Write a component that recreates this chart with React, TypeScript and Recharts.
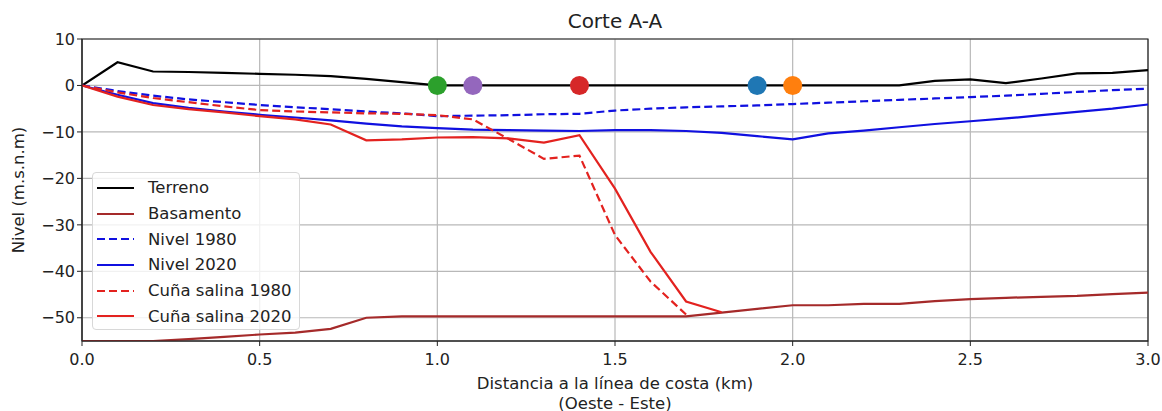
import {
    ComposedChart,
    Line,
    Scatter,
    Cell,
    XAxis,
    YAxis,
    CartesianGrid,
    ReferenceArea,
} from "recharts";

// distancia a la línea de costa (km)
const DIST = [
    0, 0.1, 0.2, 0.3, 0.4, 0.5, 0.6, 0.7, 0.8, 0.9,
    1.0, 1.1, 1.2, 1.3, 1.4, 1.5, 1.6, 1.7, 1.8, 1.9,
    2.0, 2.1, 2.2, 2.3, 2.4, 2.5, 2.6, 2.7, 2.8, 2.9, 3.0,
];

const TERRENO = [
    0, 5, 3, 2.9, 2.7, 2.5, 2.3, 2.0, 1.4, 0.7,
    0, 0, 0, 0, 0, 0, 0, 0, 0, 0,
    0, 0, 0, 0, 1.0, 1.3, 0.5, 1.5, 2.6, 2.7, 3.3,
];

const BASAMENTO = [
    -55, -55, -55, -54.6, -54.1, -53.6, -53.2, -52.4, -50, -49.7,
    -49.7, -49.7, -49.7, -49.7, -49.7, -49.7, -49.7, -49.7, -48.9, -48.1,
    -47.3, -47.3, -47.0, -47.0, -46.4, -46.0, -45.7, -45.5, -45.3, -44.9, -44.6,
];

const NIVEL_1980 = [
    0, -1.2, -2.2, -3.0, -3.6, -4.2, -4.7, -5.1, -5.6, -6.0,
    -6.6, -6.5, -6.4, -6.2, -6.1, -5.4, -5.0, -4.7, -4.5, -4.3,
    -4.0, -3.7, -3.4, -3.1, -2.8, -2.5, -2.2, -1.8, -1.4, -1.0, -0.7,
];

const NIVEL_2020 = [
    0, -2.0, -3.8, -4.8, -5.6, -6.3, -6.9, -7.5, -8.2, -8.8,
    -9.2, -9.5, -9.6, -9.7, -9.8, -9.6, -9.6, -9.8, -10.2, -10.9,
    -11.6, -10.3, -9.7, -9.0, -8.3, -7.7, -7.1, -6.4, -5.7, -5.0, -4.1,
];

// la cuña salina sólo llega hasta 1.7 / 1.8 km
const CUNA_1980 = [
    0, -1.5, -2.7, -3.6, -4.5, -5.3, -5.6, -5.8, -6.0, -6.1,
    -6.4, -7.3, -11.5, -15.8, -15.1, -32.2, -42.2, -49.3,
];

const CUNA_2020 = [
    0, -2.4, -4.2, -5.1, -5.8, -6.6, -7.3, -8.4, -11.8, -11.6,
    -11.2, -11.1, -11.4, -12.3, -10.7, -22.2, -35.8, -46.5, -48.8,
];

// pozos sobre el terreno
const POZOS_X = [1.0, 1.1, 1.4, 1.9, 2.0];
const POZOS_Y = [0, 0, 0, 0, 0];
const POZOS_COLOR = ["#2ca02c", "#9467bd", "#d62728", "#1f77b4", "#ff7f0e"];

const X_TICKS = [0, 0.5, 1.0, 1.5, 2.0, 2.5, 3.0];
const Y_TICKS = [-50, -40, -30, -20, -10, 0, 10];

const FONT = "'DejaVu Sans', sans-serif";

const SERIES = [
    { key: "terreno", name: "Terreno", color: "#000000", dash: undefined, values: TERRENO },
    { key: "basamento", name: "Basamento", color: "#a52a2a", dash: undefined, values: BASAMENTO },
    { key: "nivel1980", name: "Nivel 1980", color: "#1010e0", dash: "8 4", values: NIVEL_1980 },
    { key: "nivel2020", name: "Nivel 2020", color: "#1010e0", dash: undefined, values: NIVEL_2020 },
    { key: "cuna1980", name: "Cuña salina 1980", color: "#e3221f", dash: "8 4", values: CUNA_1980 },
    { key: "cuna2020", name: "Cuña salina 2020", color: "#e3221f", dash: undefined, values: CUNA_2020 },
];

const chartData = DIST.map((x, i) => {
    const row: Record<string, number | null> = { x };
    SERIES.forEach(s => {
        row[s.key] = i < s.values.length ? s.values[i] : null;
    });
    return row;
});

const pozos = POZOS_X.map((x, i) => ({ x, y: POZOS_Y[i] }));

const fmtY = (v: number) => (v < 0 ? "\u2212" + Math.abs(v) : String(v));

function Leyenda() {
    return (
        <div
            style={{
                position: "absolute",
                left: 92,
                top: 172,
                width: 208,
                height: 158,
                boxSizing: "border-box",
                border: "1px solid #d8d8d8",
                borderRadius: 4,
                background: "rgba(255,255,255,0.8)",
                paddingTop: 2,
            }}
        >
            {SERIES.map(s => (
                <div
                    key={s.key}
                    style={{ height: 25.7, display: "flex", alignItems: "center" }}
                >
                    <svg width={37} height={6} style={{ marginLeft: 4, marginRight: 14 }}>
                        <line
                            x1={0}
                            y1={3}
                            x2={37}
                            y2={3}
                            stroke={s.color}
                            strokeWidth={2.2}
                            strokeDasharray={s.dash}
                        />
                    </svg>
                    <span style={{ fontSize: 16.5, color: "#222", whiteSpace: "nowrap" }}>{s.name}</span>
                </div>
            ))}
        </div>
    );
}

export default function App() {
    return (
        <div
            style={{
                position: "absolute",
                left: 0,
                top: 0,
                width: 1162,
                height: 411,
                fontFamily: FONT,
                background: "#fff",
            }}
        >
            <ComposedChart
                width={1162}
                height={411}
                data={chartData}
                margin={{ top: 39, right: 14, bottom: 0, left: 0 }}
            >
                <CartesianGrid stroke="#b8b8b8" strokeWidth={1.2} />
                <XAxis
                    dataKey="x"
                    type="number"
                    domain={[0, 3]}
                    ticks={X_TICKS}
                    tickFormatter={(v: number) => v.toFixed(1)}
                    height={70}
                    tickSize={5}
                    tickMargin={8}
                    stroke="#222"
                    tick={{ fill: "#222", fontSize: 16, fontFamily: FONT }}
                    allowDataOverflow
                />
                <YAxis
                    type="number"
                    domain={[-55, 10]}
                    ticks={Y_TICKS}
                    tickFormatter={fmtY}
                    width={82}
                    tickSize={5}
                    tickMargin={2}
                    stroke="#222"
                    tick={{ fill: "#222", fontSize: 16, fontFamily: FONT }}
                    allowDataOverflow
                />
                <ReferenceArea
                    x1={0}
                    x2={3}
                    y1={-55}
                    y2={10}
                    fill="none"
                    stroke="#222"
                    strokeWidth={1.2}
                />
                {SERIES.map(s => (
                    <Line
                        key={s.key}
                        dataKey={s.key}
                        type="linear"
                        stroke={s.color}
                        strokeWidth={2.2}
                        strokeDasharray={s.dash}
                        dot={false}
                        activeDot={false}
                        isAnimationActive={false}
                    />
                ))}
                <Scatter
                    data={pozos}
                    dataKey="y"
                    isAnimationActive={false}
                    shape={(p: any) => <circle cx={p.cx} cy={p.cy} r={9.5} fill={p.fill} />}
                >
                    {pozos.map((_, i) => (
                        <Cell key={i} fill={POZOS_COLOR[i]} />
                    ))}
                </Scatter>
            </ComposedChart>

            <div
                style={{
                    position: "absolute",
                    left: 82,
                    width: 1066,
                    top: 8,
                    lineHeight: "26px",
                    textAlign: "center",
                    fontSize: 20,
                    color: "#222",
                }}
            >
                Corte A-A
            </div>

            <div
                style={{
                    position: "absolute",
                    left: 18.5 - 100,
                    top: 190 - 10,
                    width: 200,
                    lineHeight: "20px",
                    textAlign: "center",
                    fontSize: 16.5,
                    color: "#222",
                    transform: "rotate(-90deg)",
                }}
            >
                Nivel (m.s.n.m)
            </div>

            <div
                style={{
                    position: "absolute",
                    left: 82,
                    width: 1066,
                    top: 374,
                    lineHeight: "20px",
                    textAlign: "center",
                    fontSize: 16.5,
                    color: "#222",
                }}
            >
                Distancia a la línea de costa (km)
                <br />
                (Oeste - Este)
            </div>

            <Leyenda />
        </div>
    );
}
